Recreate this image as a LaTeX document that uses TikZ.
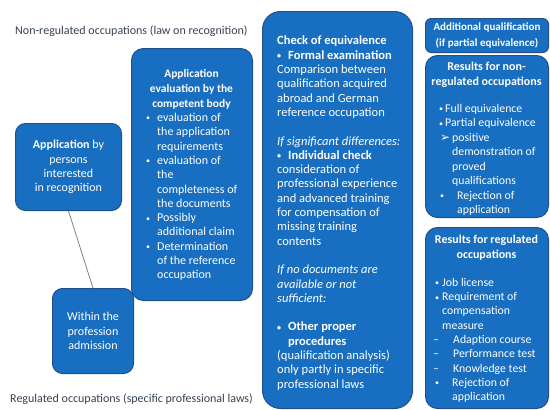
\documentclass[tikz,border=0pt]{standalone}
\usepackage{fontspec}
\setmainfont{Carlito}
\newfontfamily\symfont{DejaVu Sans}
\usetikzlibrary{positioning}
\definecolor{boxblue}{RGB}{24,110,192}
\definecolor{boxedge}{RGB}{32,80,140}
\definecolor{labelgray}{RGB}{55,65,82}
\definecolor{linkgray}{RGB}{130,130,130}
\newcommand{\bul}{\raisebox{0.6pt}{\footnotesize\textbullet}}
\newcommand{\itm}[2][11pt]{\makebox[#1][l]{#2}}
\newcommand{\ind}[1][11pt]{\hspace*{#1}}

\begin{document}
\begin{tikzpicture}[x=1pt,y=-1pt,
	bluebox/.style={draw=boxedge, fill=boxblue, line width=1pt, inner sep=0pt, anchor=north west},
	boxtext/.style={text=white, inner sep=0pt, align=left, font=\fontsize{12}{14.3}\selectfont},
	boxhead/.style={text=white, inner sep=0pt, align=center, font=\fontsize{12}{15}\selectfont\bfseries},
	sidelabel/.style={text=labelgray, inner sep=0pt, anchor=base west, font=\fontsize{12}{14}\selectfont}]
	\useasboundingbox (0,0) rectangle (550,410);
	
	% Side labels
	\node[sidelabel] (nonreg) at (15,34) {Non-regulated occupations (law on recognition)};
	\node[sidelabel] (reg) at (10,402) {Regulated occupations (specific professional laws)};
	
	% Boxes
	\node[bluebox, rounded corners=10pt, minimum width=106, minimum height=87] (appl) at (15,123) {};
	\node[bluebox, rounded corners=12pt, minimum width=121, minimum height=252] (eval) at (131,48) {};
	\node[bluebox, rounded corners=10pt, minimum width=81, minimum height=85] (admit) at (52,288) {};
	\node[bluebox, rounded corners=18pt, minimum width=150, minimum height=397] (equiv) at (262,11) {};
	\node[bluebox, rounded corners=6pt, minimum width=123, minimum height=34] (addq) at (425,18) {};
	\node[bluebox, rounded corners=12pt, minimum width=123, minimum height=162] (resnon) at (425,55) {};
	\node[bluebox, rounded corners=12pt, minimum width=123, minimum height=181] (resreg) at (425,227) {};
	
	\draw[linkgray, line width=0.8pt] (appl.south) -- (admit.north);
	
	% Texts
	\node[boxtext, align=center] (appltxt) at (appl.center) {\textbf{Application} by\\ persons\\ interested\\ in recognition};
	\node[boxtext, align=center] (admittxt) at (admit.center) {Within the\\ profession\\ admission};
	
	\node[boxhead, anchor=north, font=\fontsize{11.5}{15}\selectfont\bfseries] (evalhead) at (191.5,69) {Application\\ evaluation by the\\ competent body};
	\node[boxtext, anchor=north west] (evallist) at (146,113) {%
		\itm{\bul}evaluation of\\ \ind the application\\ \ind requirements\\
		\itm{\bul}evaluation of\\ \ind the\\ \ind completeness of\\ \ind the documents\\
		\itm{\bul}Possibly\\ \ind additional claim\\
		\itm{\bul}Determination\\ \ind of the reference\\ \ind occupation};
	
	\node[boxtext, anchor=north west, font=\fontsize{12.5}{14.3}\selectfont] (equivtxt) at (277,36) {%
		\textbf{Check of equivalence}\\
		\textbf{\itm{\bul}Formal examination}\\
		Comparison between\\ qualification acquired\\ abroad and German\\ reference occupation\\[14.3pt]
		\textit{If significant differences:}\\
		\textbf{\itm{\bul}Individual check}\\
		consideration of\\ professional experience\\ and advanced training\\ for compensation of\\ missing training\\ contents\\[14.3pt]
		\textit{If no documents are}\\ \textit{available or not}\\ \textit{sufficient:}\\[14.3pt]
		\textbf{\itm{\bul}Other proper}\\ \ind\textbf{procedures}\\
		(qualification analysis)\\ only partly in specific\\ professional laws};
	
	\node[boxhead, align=center, font=\fontsize{11}{16}\selectfont\bfseries] (addqtxt) at (addq.center) {Additional qualification\\ (if partial equivalence)};
	
	\node[boxhead, anchor=north] (resnonhead) at (486.5,62) {Results for non-\\ regulated occupations};
	\node[boxtext, anchor=north west, font=\fontsize{11.8}{14.5}\selectfont] (resnonlist) at (437,104) {%
		\ind[2pt]\itm[6pt]{\bul}Full equivalence\\
		\ind[2pt]\itm[6pt]{\bul}Partial equivalence\\
		\ind[3pt]\itm[12pt]{\symfont\large ➢}positive\\
		\ind[15pt]demonstration of\\ \ind[15pt]proved\\ \ind[15pt]qualifications\\
		\ind[3pt]\itm[17pt]{\bul}Rejection of\\ \ind[20pt]application};
	
	\node[boxhead, anchor=north] (resreghead) at (486.5,235) {Results for regulated\\ occupations};
	\node[boxtext, anchor=north west, font=\fontsize{11.8}{14.3}\selectfont] (resreglist) at (433,278) {%
		\ind[2pt]\itm[7pt]{\bul}Job license\\
		\ind[2pt]\itm[7pt]{\bul}Requirement of\\
		\ind[9pt]compensation\\ \ind[9pt]measure\\
		\itm[20pt]{--}Adaption course\\
		\itm[20pt]{--}Performance test\\
		\itm[20pt]{--}Knowledge test\\
		\ind[2pt]\itm[17pt]{\bul}Rejection of\\ \ind[19pt]application};
\end{tikzpicture}
\end{document}
